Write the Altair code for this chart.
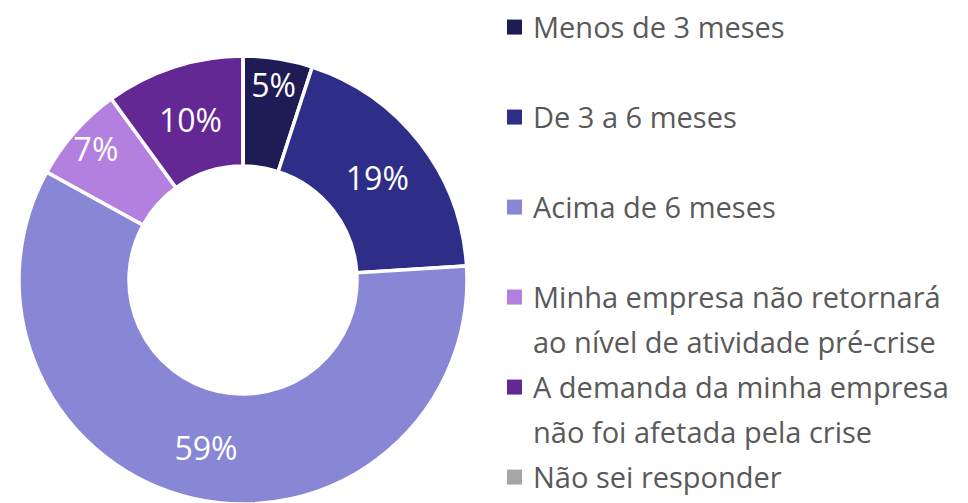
import json
import altair as alt
import pandas as pd

categories = [
    "Menos de 3 meses",
    "De 3 a 6 meses",
    "Acima de 6 meses",
    "Minha empresa não retornará ao nível de atividade pré-crise",
    "A demanda da minha empresa não foi afetada pela crise",
    "Não sei responder",
]
values = [5, 19, 59, 7, 10, 0]
legend_lines = [
    ["Menos de 3 meses", ""],
    ["De 3 a 6 meses", ""],
    ["Acima de 6 meses", ""],
    ["Minha empresa não retornará", "ao nível de atividade pré-crise"],
    ["A demanda da minha empresa", "não foi afetada pela crise"],
    ["Não sei responder", ""],
]
colors = ["#1e1b55", "#2e2e88", "#8787d6", "#b380e0", "#632894", "#a6a6a6"]

total = sum(values)
df = pd.DataFrame({"cat": categories, "value": values, "order": list(range(len(categories)))})

label_map = json.dumps(dict(zip(categories, legend_lines)), ensure_ascii=False)

FONT = "Open Sans"

color = alt.Color(
    "cat:N",
    scale=alt.Scale(domain=categories, range=colors),
    legend=alt.Legend(
        title=None,
        orient="none",
        legendX=492,
        legendY=15,
        padding=0,
        symbolType="M-1,-2.39H1V-0.39H-1Z",
        symbolSize=225,
        symbolStrokeWidth=0,
        labelFont=FONT,
        labelFontSize=29,
        labelColor="#595959",
        labelBaseline="alphabetic",
        labelOffset=4,
        labelLimit=600,
        rowPadding=15,
        labelExpr=f"{label_map}[datum.label]",
    ),
)

base = alt.Chart(df).transform_stack(
    stack="value", groupby=[], as_=["v0", "v1"], sort=[alt.SortField("order")]
).transform_calculate(
    mid="(datum.v0 + datum.v1) / 2",
    pct="datum.value + '%'",
)

theta_scale = alt.Scale(domain=[0, total])

arcs = base.mark_arc(radius=224, radius2=114, stroke="white", strokeWidth=3.5).encode(
    theta=alt.Theta("v0:Q", scale=theta_scale),
    theta2="v1:Q",
    color=color,
)

big = base.transform_filter("datum.value >= 8").mark_text(
    radius=170, dy=4, font=FONT, fontSize=32, color="white", align="center", baseline="middle"
).encode(theta=alt.Theta("mid:Q", scale=theta_scale), text="pct:N")

small = base.transform_filter("datum.value > 0 && datum.value < 8").mark_text(
    radius=196, dy=1, font=FONT, fontSize=32, color="white", align="center", baseline="middle"
).encode(theta=alt.Theta("mid:Q", scale=theta_scale), text="pct:N")

chart = (
    alt.layer(arcs, big, small)
    .properties(width=470, height=544, padding=0)
    .configure_view(stroke=None)
    .configure(style={"guide-label": {"lineHeight": 45}})
)

chart.save("out.html", embed_options={"renderer": "svg", "actions": False})
